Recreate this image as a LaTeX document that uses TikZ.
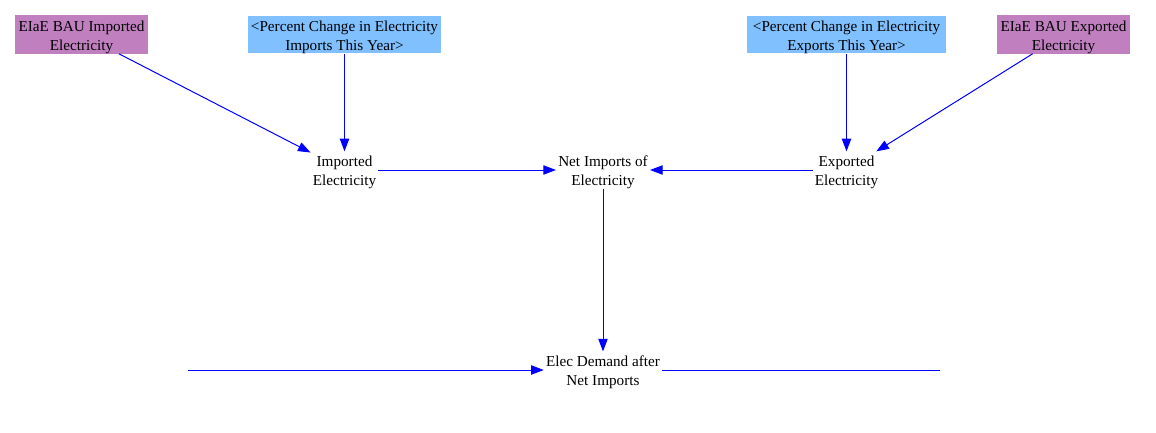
\documentclass[tikz,border=0pt]{standalone}
\usepackage{fontspec}
\setmainfont{Liberation Serif}
\usetikzlibrary{arrows.meta}
\definecolor{varpurple}{RGB}{192,128,192}
\definecolor{shadowblue}{RGB}{128,192,255}
\definecolor{linkblue}{RGB}{0,0,255}
\newcommand\boxstrut{\rule{0pt}{11.8pt}}
\newcommand\varstrut{\rule{0pt}{10.8pt}}
\begin{document}
\begin{tikzpicture}[x=0.75pt,y=-0.75pt,
  every node/.style={font=\fontsize{11.4}{14.25}\selectfont, align=center},
  constbox/.style={fill=varpurple, inner sep=0pt, minimum width=99.75pt, minimum height=27.75pt},
  shadowbox/.style={fill=shadowblue, inner sep=0pt, minimum height=27.75pt},
  varnode/.style={inner xsep=1.5pt, inner ysep=0pt},
  link/.style={draw=linkblue, line width=0.75pt, -{Triangle[length=9.5pt,width=7pt]}},
  plainlink/.style={draw=linkblue, line width=0.75pt}
]
\useasboundingbox (0,0) rectangle (1156,432);

\node[constbox] (bauimp) at (81.5,34.5) {\boxstrut EIaE BAU Imported\\Electricity};
\node[shadowbox, minimum width=144.75pt] (pcimp) at (344.5,34.5) {\boxstrut<Percent Change in Electricity\\Imports This Year>};
\node[shadowbox, minimum width=149.25pt, minimum height=27pt] (pcexp) at (846.5,34.5) {\boxstrut<Percent Change in Electricity\\Exports This Year>};
\node[constbox] (bauexp) at (1063.5,34.5) {\boxstrut EIaE BAU Exported\\Electricity};

\node[varnode] (imp) at (344.5,170) {\varstrut Imported\\Electricity};
\node[varnode] (net) at (603,170) {\varstrut Net Imports of\\Electricity};
\node[varnode] (exp) at (846.5,170) {\varstrut Exported\\Electricity};
\node[varnode] (dem) at (603,370) {\varstrut Elec Demand after\\Net Imports};

\coordinate (leftin) at (188,370);
\coordinate (rightout) at (940,370);

\draw[link] (bauimp) -- (imp);
\draw[link] (pcimp) -- (imp);
\draw[link] (pcexp) -- (exp);
\draw[link] (bauexp) -- (exp);
\draw[link] (imp) -- (net);
\draw[link] (exp) -- (net);
\draw[link] (net) -- (dem);
\draw[link] (leftin) -- (dem.west);
\draw[plainlink] (dem.east) -- (rightout);
\end{tikzpicture}
\end{document}
